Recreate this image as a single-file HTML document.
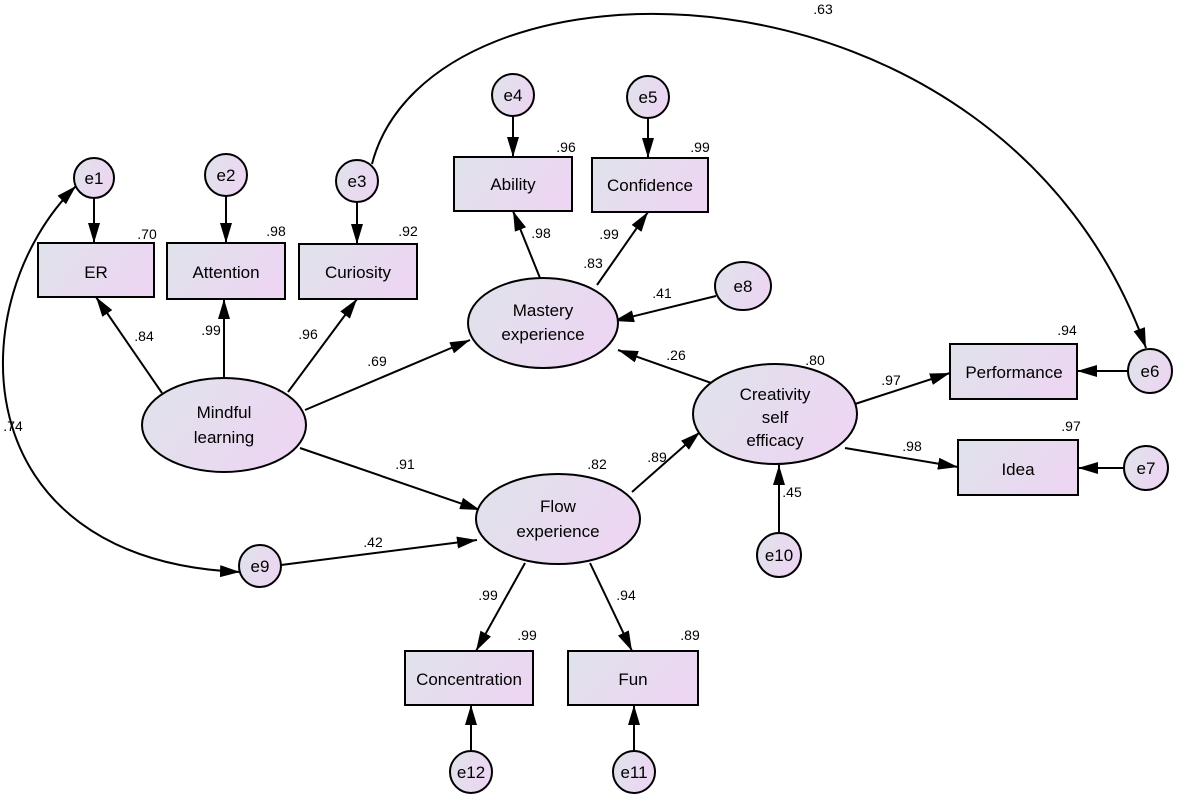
<!DOCTYPE html>
<html><head><meta charset="utf-8"><style>
html,body{margin:0;padding:0;background:#fff;}
svg{display:block;font-family:"Liberation Sans",Arial,sans-serif;}
</style></head><body>
<svg width="1181" height="798" viewBox="0 0 1181 798" xmlns="http://www.w3.org/2000/svg">
<defs>
<linearGradient id="g" x1="0" y1="0" x2="1" y2="0.4">
<stop offset="0" stop-color="#dfe3ea"/><stop offset="1" stop-color="#ecd6f2"/>
</linearGradient>
<marker id="a" viewBox="0 0 10 10" refX="10" refY="5" markerWidth="10" markerHeight="10" markerUnits="userSpaceOnUse" orient="auto-start-reverse">
<path d="M0,0 L10,5 L0,10 z" fill="#000"/></marker>
<marker id="b" viewBox="0 0 20 12" refX="20" refY="6" markerWidth="20" markerHeight="12" markerUnits="userSpaceOnUse" orient="auto-start-reverse">
<path d="M0,0 L20,6 L0,12 z" fill="#000"/></marker>
</defs>
<g stroke="#000" stroke-width="2" fill="none">
<!-- curves -->
<path d="M372,164 C430,-60 1000,-60 1146,348" marker-end="url(#b)"/>
<path d="M76,186 C-40,300 -40,560 240,572" marker-start="url(#b)" marker-end="url(#b)"/>
<!-- error arrows -->
<line x1="94" y1="198" x2="94" y2="243" marker-end="url(#b)"/>
<line x1="226" y1="196" x2="226" y2="243" marker-end="url(#b)"/>
<line x1="357" y1="202" x2="357" y2="244" marker-end="url(#b)"/>
<line x1="513" y1="116" x2="513" y2="157" marker-end="url(#b)"/>
<line x1="648" y1="118" x2="648" y2="158" marker-end="url(#b)"/>
<line x1="716" y1="296" x2="614" y2="321" marker-end="url(#b)"/>
<line x1="1128" y1="371" x2="1077" y2="371" marker-end="url(#b)"/>
<line x1="1124" y1="468" x2="1078" y2="468" marker-end="url(#b)"/>
<line x1="779" y1="533" x2="779" y2="465" marker-end="url(#b)"/>
<line x1="281" y1="565" x2="477" y2="540" marker-end="url(#b)"/>
<line x1="471" y1="751" x2="471" y2="705" marker-end="url(#b)"/>
<line x1="634" y1="751" x2="634" y2="705" marker-end="url(#b)"/>
<!-- structural -->
<line x1="162" y1="393" x2="96" y2="297" marker-end="url(#b)"/>
<line x1="224" y1="378" x2="224" y2="299" marker-end="url(#b)"/>
<line x1="288" y1="392" x2="357" y2="299" marker-end="url(#b)"/>
<line x1="305" y1="410" x2="470" y2="340" marker-end="url(#b)"/>
<line x1="300" y1="448" x2="480" y2="510" marker-end="url(#b)"/>
<line x1="540" y1="278" x2="513" y2="211" marker-end="url(#b)"/>
<line x1="597" y1="285" x2="648" y2="212" marker-end="url(#b)"/>
<line x1="717" y1="385" x2="618" y2="350" marker-end="url(#b)"/>
<line x1="632" y1="492" x2="700" y2="432" marker-end="url(#b)"/>
<line x1="855" y1="404" x2="950" y2="373" marker-end="url(#b)"/>
<line x1="845" y1="448" x2="958" y2="467" marker-end="url(#b)"/>
<line x1="525" y1="563" x2="476" y2="651" marker-end="url(#b)"/>
<line x1="590" y1="563" x2="632" y2="651" marker-end="url(#b)"/>
</g>
<g stroke="#000" stroke-width="2" fill="url(#g)">
<rect x="38" y="243" width="116" height="54"/>
<rect x="167" y="243" width="118" height="56"/>
<rect x="299" y="244" width="118" height="55"/>
<rect x="454" y="157" width="118" height="54"/>
<rect x="592" y="158" width="116" height="54"/>
<rect x="950" y="344" width="127" height="55"/>
<rect x="958" y="440" width="120" height="55"/>
<rect x="405" y="651" width="128" height="54"/>
<rect x="568" y="651" width="130" height="54"/>
<circle cx="94" cy="178" r="20"/>
<circle cx="226" cy="175" r="21"/>
<circle cx="357" cy="181" r="21"/>
<circle cx="513" cy="95" r="21"/>
<circle cx="648" cy="97" r="21"/>
<ellipse cx="743" cy="286" rx="28" ry="24"/>
<circle cx="1150" cy="371" r="22"/>
<circle cx="1146" cy="468" r="22"/>
<circle cx="779" cy="555" r="22"/>
<circle cx="260" cy="566" r="21"/>
<circle cx="471" cy="772" r="21"/>
<circle cx="634" cy="772" r="21"/>
<ellipse cx="543" cy="323" rx="75" ry="45"/>
<ellipse cx="224" cy="425" rx="82" ry="47"/>
<ellipse cx="558" cy="519" rx="82" ry="45"/>
<ellipse cx="775" cy="414" rx="82" ry="50"/>
</g>
<g font-size="17" text-anchor="middle" fill="#000">
<text x="96" y="278">ER</text>
<text x="226" y="278">Attention</text>
<text x="358" y="278">Curiosity</text>
<text x="513" y="190">Ability</text>
<text x="650" y="191">Confidence</text>
<text x="1014" y="378">Performance</text>
<text x="1018" y="475">Idea</text>
<text x="469" y="685">Concentration</text>
<text x="633" y="685">Fun</text>
<text x="94" y="184">e1</text>
<text x="226" y="181">e2</text>
<text x="357" y="187">e3</text>
<text x="513" y="101">e4</text>
<text x="648" y="103">e5</text>
<text x="743" y="292">e8</text>
<text x="1150" y="377">e6</text>
<text x="1146" y="474">e7</text>
<text x="779" y="561">e10</text>
<text x="260" y="572">e9</text>
<text x="471" y="778">e12</text>
<text x="634" y="778">e11</text>
<text x="543" y="316">Mastery</text>
<text x="543" y="340">experience</text>
<text x="224" y="418">Mindful</text>
<text x="224" y="443">learning</text>
<text x="558" y="512">Flow</text>
<text x="558" y="537">experience</text>
<text x="775" y="400">Creativity</text>
<text x="775" y="423">self</text>
<text x="775" y="446">efficacy</text>
</g>
<g font-size="14" text-anchor="middle" fill="#000">
<text x="823" y="14">.63</text>
<text x="147" y="239">.70</text>
<text x="276" y="236">.98</text>
<text x="408" y="236">.92</text>
<text x="566" y="152">.96</text>
<text x="700" y="152">.99</text>
<text x="144" y="341">.84</text>
<text x="211" y="335">.99</text>
<text x="308" y="339">.96</text>
<text x="377" y="366">.69</text>
<text x="405" y="469">.91</text>
<text x="541" y="238">.98</text>
<text x="609" y="239">.99</text>
<text x="593" y="268">.83</text>
<text x="662" y="298">.41</text>
<text x="676" y="360">.26</text>
<text x="815" y="365">.80</text>
<text x="891" y="385">.97</text>
<text x="1067" y="335">.94</text>
<text x="912" y="451">.98</text>
<text x="1071" y="431">.97</text>
<text x="597" y="469">.82</text>
<text x="657" y="462">.89</text>
<text x="792" y="497">.45</text>
<text x="373" y="547">.42</text>
<text x="13" y="431">.74</text>
<text x="488" y="600">.99</text>
<text x="527" y="640">.99</text>
<text x="626" y="600">.94</text>
<text x="690" y="640">.89</text>
</g>
</svg>
</body></html>
